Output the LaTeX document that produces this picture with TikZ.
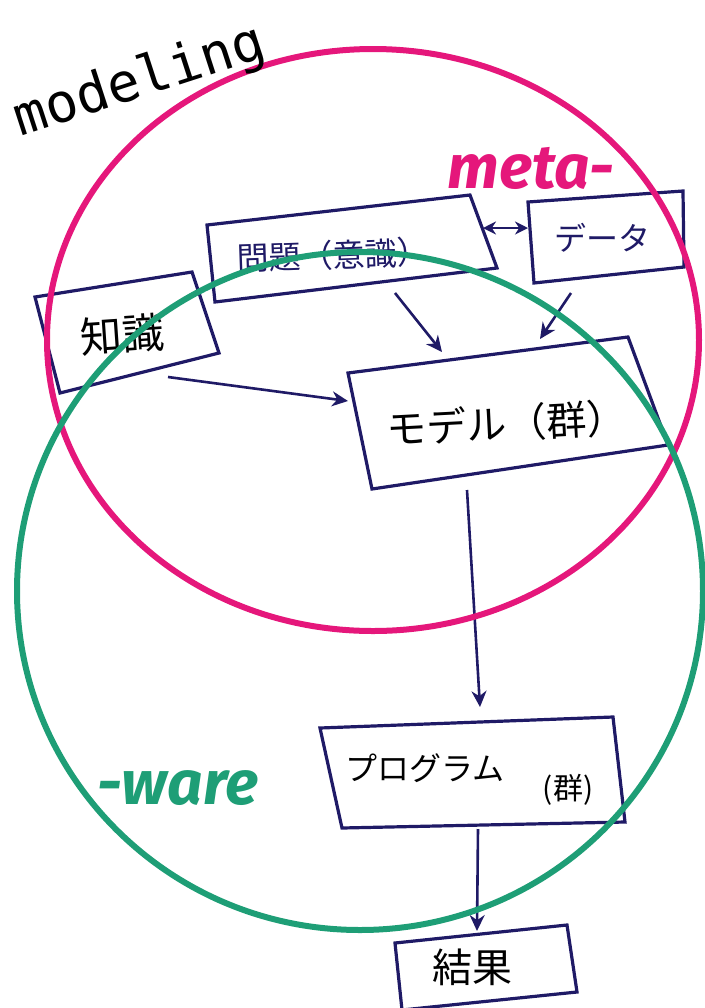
\documentclass[tikz,border=0pt]{standalone}
\usepackage{fontspec}
\newfontfamily\jp{Noto Sans CJK JP}
\newfontfamily\hand{DejaVu Sans Mono}
\newfontfamily\bold{Fira Sans}
\usetikzlibrary{arrows.meta}
\definecolor{pinkc}{HTML}{E5177B}
\definecolor{greenc}{HTML}{1E9E76}
\definecolor{navy}{HTML}{1F1A66}
\tikzset{
  boxline/.style={draw=navy, line width=1.6pt, line join=miter},
  conn/.style={navy, line width=1.3pt, -{Stealth[length=8pt,width=7.5pt]}},
  biconn/.style={navy, line width=1.3pt, {Stealth[length=6.5pt,width=6.5pt]}-{Stealth[length=6.5pt,width=6.5pt]}},
  ring/.style={line width=3pt},
  jtext/.style={font=\jp, inner sep=0pt},
}
\begin{document}
\begin{tikzpicture}[x=0.5pt, y=-0.5pt]
\useasboundingbox (0,0) rectangle (705,1008);
% box corners
\coordinate (k1) at (35,297); \coordinate (k2) at (192,272); \coordinate (k3) at (219,353); \coordinate (k4) at (60,393);
\coordinate (m1) at (207,225); \coordinate (m2) at (470,195); \coordinate (m3) at (497,268); \coordinate (m4) at (215,302);
\coordinate (d1) at (528,202); \coordinate (d2) at (683,191); \coordinate (d3) at (684,267); \coordinate (d4) at (534,283);
\coordinate (g1) at (348,373); \coordinate (g2) at (628,337); \coordinate (g3) at (668,445); \coordinate (g4) at (372,489);
\coordinate (p1) at (320,728); \coordinate (p2) at (613,717); \coordinate (p3) at (625,822); \coordinate (p4) at (342,828);
\coordinate (r1) at (395,943); \coordinate (r2) at (567,925); \coordinate (r3) at (577,992); \coordinate (r4) at (402,1010);
% boxes
\draw[boxline] (k1) -- (k2) -- (k3) -- (k4) -- cycle;
\draw[boxline] (m1) -- (m2) -- (m3) -- (m4) -- cycle;
\draw[boxline] (d1) -- (d2) -- (d3) -- (d4) -- cycle;
\draw[boxline] (g1) -- (g2) -- (g3) -- (g4) -- cycle;
\draw[boxline] (p1) -- (p2) -- (p3) -- (p4) -- cycle;
\draw[boxline] (r1) -- (r2) -- (r3) -- (r4) -- cycle;
% texts
\node[jtext, font=\jp\fontsize{21}{21}\selectfont, rotate=4] (chishiki) at (122,335) {知識};
\node[jtext, font=\jp\fontsize{16}{16}\selectfont, text=navy, rotate=2] (mondai) at (333,255) {問題（意識）};
\node[jtext, font=\jp\fontsize{16}{16}\selectfont, text=navy] (data) at (602,238) {データ};
\node[jtext, font=\jp\fontsize{20}{20}\selectfont, rotate=3] (model) at (507,423) {モデル（群）};
\node[jtext, font=\jp\fontsize{16}{16}\selectfont] (prog) at (425,768) {プログラム};
\node[jtext, font=\jp\fontsize{15}{15}\selectfont] (progg) at (568,790) {(群)};
\node[jtext, font=\jp\fontsize{20}{20}\selectfont] (kekka) at (472,967) {結果};
% arrow end points
\coordinate (a1s) at (483,228); \coordinate (a1e) at (528,228);
\coordinate (a2s) at (395,293); \coordinate (a2e) at (442,352);
\coordinate (a3s) at (571,293); \coordinate (a3e) at (540,339);
\coordinate (a4s) at (168,377); \coordinate (a4e) at (348,401);
\coordinate (a5s) at (467,490); \coordinate (a5e) at (480,707);
\coordinate (a6s) at (478,829); \coordinate (a6e) at (477,931);
\draw[biconn] (a1s) -- (a1e);
\draw[conn] (a2s) -- (a2e);
\draw[conn] (a3s) -- (a3e);
\draw[conn] (a4s) -- (a4e);
\draw[conn] (a5s) -- (a5e);
\draw[conn] (a6s) -- (a6e);
% rings
\coordinate (pc) at (373,340);
\coordinate (gc) at (360,591);
\draw[ring, pinkc] (pc) ellipse [x radius=326, y radius=291];
\draw[ring, greenc] (gc) ellipse [x radius=343, y radius=339];
% labels
\node[font=\hand\fontsize{27}{27}\selectfont, rotate=18, inner sep=0pt] (modeling) at (140,82) {modeling};
\node[font=\bold\bfseries\itshape\fontsize{31}{31}\selectfont, text=pinkc, inner sep=0pt] (meta) at (531,168) {meta-};
\node[font=\bold\bfseries\itshape\fontsize{31}{31}\selectfont, text=greenc, inner sep=0pt] (ware) at (178,788) {-ware};
\end{tikzpicture}
\end{document}
